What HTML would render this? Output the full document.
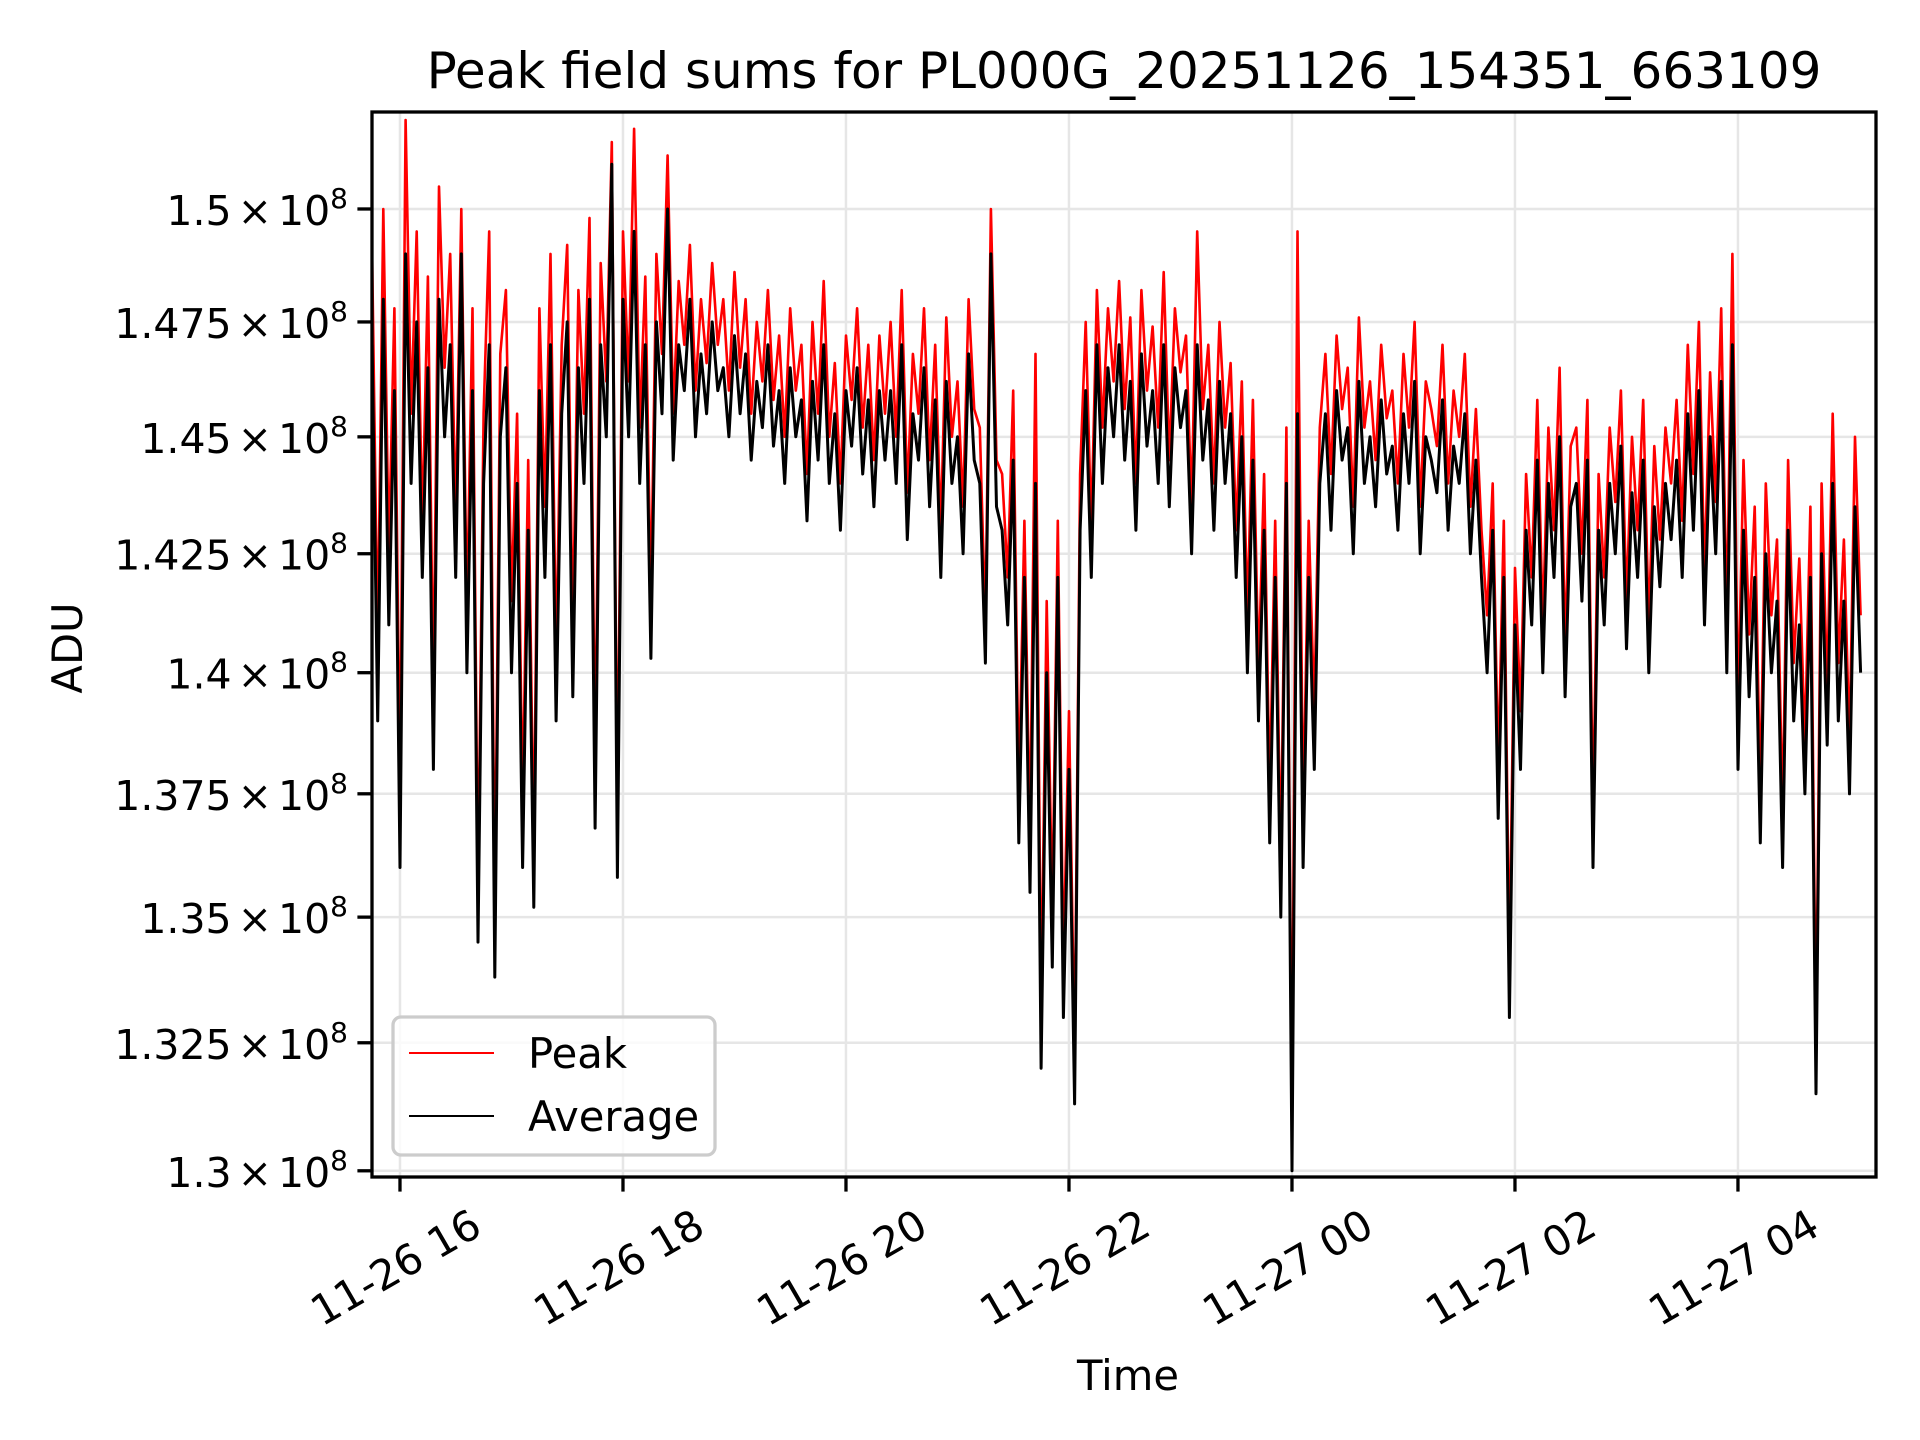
<!DOCTYPE html>
<html><head><meta charset="utf-8"><style>
html,body{margin:0;padding:0;background:#fff;width:1920px;height:1440px;overflow:hidden}
svg{display:block;font-family:"DejaVu Sans","Liberation Sans",sans-serif}
</style></head><body>
<svg id="chart" width="1920" height="1440" viewBox="0 0 1920 1440" xmlns="http://www.w3.org/2000/svg">
<rect width="1920" height="1440" fill="#fff"/>
<text x="1124" y="88" font-size="50" text-anchor="middle">Peak field sums for PL000G_20251126_154351_663109</text>
<g id="grid"></g>
<g id="series" clip-path="url(#clip)"></g>
<defs><clipPath id="clip"><rect x="372" y="112" width="1504" height="1065"/></clipPath></defs>
<rect x="372" y="112" width="1504" height="1065" fill="none" stroke="#000" stroke-width="3.3"/>
<g id="axes"></g>
<text x="1128" y="1390" font-size="41.7" text-anchor="middle">Time</text>
<text x="0" y="0" font-size="41.7" text-anchor="middle" transform="translate(82,648) rotate(-90)">ADU</text>
<g>
<rect x="393" y="1017" width="322" height="138" rx="8" fill="#fff" fill-opacity="0.8" stroke="#cccccc" stroke-width="3.3"/>
<line x1="409" y1="1053" x2="494" y2="1053" stroke="#f00" stroke-width="2"/>
<text x="528" y="1068" font-size="41.7">Peak</text>
<line x1="409" y1="1116" x2="494" y2="1116" stroke="#000" stroke-width="2"/>
<text x="528" y="1131" font-size="41.7">Average</text>
</g>
</svg>
<script>
// Data in units of 1e5 ADU; samples every 3 minutes starting 15:45 on 11-26
const startHour = 15.75;
const stepHours = 0.05;
const averageValues = [1470,1390,1480,1410,1460,1360,1490,1440,1475,1420,1465,1380,1480,1450,1470,1420,1490,1400,1460,1345,1440,1470,1338,1450,1465,1400,1440,1360,1430,1352,1460,1420,1470,1390,1455,1475,1395,1465,1440,1480,1368,1470,1450,
1510,1358,1480,1450,1495,1440,1470,1403,1475,1455,1500,1445,1470,1460,1480,1450,1468,1455,1475,1460,
1465,1450,1472,1455,1468,1445,1462,1452,1470,1448,1460,1440,1465,1450,1458,1432,1462,1445,1470,1440,1455,1430,1460,1448,1465,1442,1458,1435,1460,1445,
1460,1440,1470,1428,1455,1445,1465,1435,1458,1420,1462,1440,1450,1425,1468,1445,1440,1402,1490,1435,
1430,1410,1445,1365,1420,1355,1440,1320,1400,1340,1420,1330,1380,1313,
1430,1460,1420,1470,1440,1465,1450,1470,1445,1462,1430,1468,1448,1460,1440,1470,1435,1465,1452,1460,1425,1470,1445,1458,1430,1462,1440,1455,1420,1450,
1400,1445,1390,1430,1365,1420,1350,1440,1300,1455,1360,1420,1380,
1440,1455,1430,1460,1445,1452,1425,1462,1440,1450,1435,1458,1442,1448,1430,1455,1440,1462,1425,1450,1445,1438,1458,1430,1448,1440,1455,1425,1445,1420,
1400,1430,1370,1420,1330,1410,1380,
1430,1410,1445,1400,1440,1420,1450,1395,1435,1440,1415,1445,1360,1430,1410,1440,1425,1448,1405,1438,1420,1445,1400,1435,1418,1440,1428,
1445,1420,1455,1430,1460,1410,1450,1425,1462,1400,
1470,1380,1430,1395,1420,1365,1425,1400,1415,1360,1430,1390,1410,1375,1420,1315,1425,1385,1440,1390,1415,1375,1435,1400];
const peakValues = [1490,1405,1500,1425,1478,1375,1520,1455,1495,1430,1485,1395,1505,1465,1490,1432,1500,1412,1478,1355,1455,1495,1350,1468,1482,1415,1455,1372,1445,1362,1478,1435,1490,1402,1470,1492,1408,1482,1455,1498,1380,1488,1462,
1515,1370,1495,1462,1518,1452,1485,1415,1490,1468,1512,1455,1484,1470,1492,1460,1480,1466,1488,1470,
1480,1460,1486,1465,1480,1455,1475,1462,1482,1458,1472,1450,1478,1460,1470,1442,1475,1455,1484,1450,1466,1440,1472,1458,1478,1452,1470,1445,1472,1455,
1475,1450,1482,1438,1468,1455,1478,1445,1470,1430,1476,1450,1462,1435,1480,1456,1452,1410,1500,1445,
1442,1420,1460,1375,1432,1365,1468,1330,1415,1350,1432,1340,1392,1322,
1442,1475,1430,1482,1452,1478,1462,1484,1456,1476,1440,1482,1460,1474,1452,1486,1445,1478,1464,1472,1435,1495,1456,1470,1440,1475,1452,1466,1430,1462,
1412,1458,1400,1442,1375,1432,1360,1452,1310,1495,1370,1432,1392,
1452,1468,1442,1472,1456,1465,1435,1476,1452,1462,1445,1470,1454,1460,1440,1468,1452,1475,1435,1462,1456,1448,1470,1440,1460,1450,1468,1435,1456,1430,
1412,1440,1380,1432,1340,1422,1392,
1442,1420,1458,1410,1452,1430,1465,1405,1448,1452,1425,1458,1370,1442,1420,1452,1436,1460,1415,1450,1430,1458,1410,1448,1428,1452,1440,
1458,1432,1470,1442,1475,1420,1464,1436,1478,1410,
1490,1392,1445,1408,1435,1375,1440,1412,1428,1370,1445,1402,1424,1385,1435,1325,1440,1396,1455,1402,1428,1385,1450,1412];
const yTickValues = [1.3,1.325,1.35,1.375,1.4,1.425,1.45,1.475,1.5];
const yTickLabels = ["1.3","1.325","1.35","1.375","1.4","1.425","1.45","1.475","1.5"];
const xTickHours = [16,18,20,22,24,26,28];
const xTickLabels = ["11-26 16","11-26 18","11-26 20","11-26 22","11-27 00","11-27 02","11-27 04"];

const NS="http://www.w3.org/2000/svg";
const L=372,R=1876,T=112,B=1177;
const xMin=15.749,xMax=29.238,yMin=1.2988,yMax=1.5218;
function xs(h){return L+(h-xMin)/(xMax-xMin)*(R-L);}
function ys(v){return T+(Math.log(yMax)-Math.log(v))/(Math.log(yMax)-Math.log(yMin))*(B-T);}
function mk(tag,attrs,parent){const e=document.createElementNS(NS,tag);for(const k in attrs)e.setAttribute(k,attrs[k]);parent.appendChild(e);return e;}
const grid=document.getElementById('grid'),axes=document.getElementById('axes'),series=document.getElementById('series');

yTickValues.forEach((v,i)=>{
  const y=ys(v);
  const g=mk('line',{x1:L,x2:R,y1:y,y2:y,stroke:'#e6e6e6','stroke-width':2.5},grid);
  
  
  const t=mk('line',{x1:L-14.6,x2:L,y1:y,y2:y,stroke:'#000','stroke-width':3.3},axes);
  
  
  const tx=mk('text',{x:348,y:y+16,'font-size':41,'text-anchor':'end'},axes);
  
  
  tx.innerHTML=yTickLabels[i]+'<tspan dx="6">\u00d7</tspan><tspan dx="6">10</tspan><tspan font-size="28" dy="-17">8</tspan>';
});
xTickHours.forEach((h,i)=>{
  const x=xs(h);
  const g=mk('line',{x1:x,x2:x,y1:T,y2:B,stroke:'#e6e6e6','stroke-width':2.5},grid);
  
  
  const t=mk('line',{x1:x,x2:x,y1:B,y2:B+14.6,stroke:'#000','stroke-width':3.3},axes);
  
  
  const tx=mk('text',{x:0,y:0,'font-size':41.7,'text-anchor':'middle',transform:'translate('+(x-4)+',1268) rotate(-30) translate(0,14)'},axes);
  
  
  tx.textContent=xTickLabels[i];
});
function path(vals,color,name,w){
  let d='';
  vals.forEach((v,i)=>{d+=(i?'L':'M')+xs(startHour+i*stepHours).toFixed(1)+','+ys(v/1000).toFixed(1);});
  const p=mk('path',{d:d,fill:'none',stroke:color,'stroke-width':w,'stroke-linejoin':'round'},series);
  
  
}
path(peakValues,'#ff0000','peak-line',2.6);
path(averageValues,'#000000','average-line',3);
</script>
</body></html>
